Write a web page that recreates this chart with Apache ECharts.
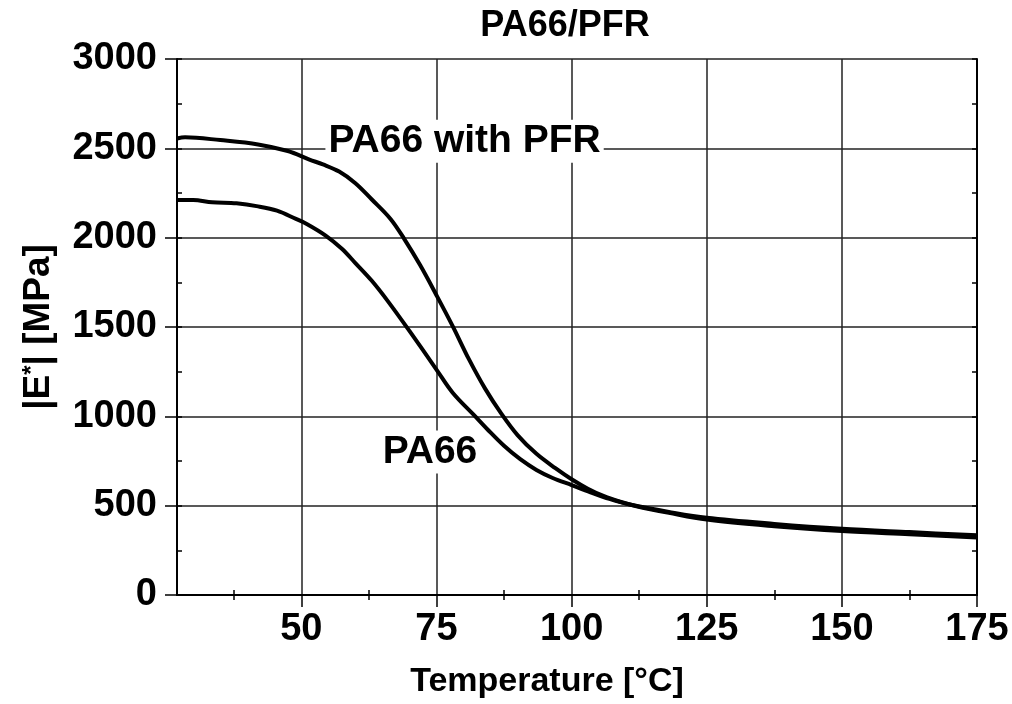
<!DOCTYPE html>
<html>
<head>
<meta charset="utf-8">
<title>PA66/PFR</title>
<script src="https://cdn.jsdelivr.net/npm/echarts@6/dist/echarts.min.js"></script>
<style>
  html, body { margin: 0; padding: 0; background: #fff; }
  #chart { width: 1012px; height: 704px; }
</style>
</head>
<body>
<div id="chart"></div>
<script>
// values
const tempPfr = [27, 28.5, 35, 42, 47.5, 51.5, 54, 57, 60, 63, 66.5, 69, 72, 75, 78, 81, 84, 87, 90, 93.5, 97, 100, 103, 106, 109, 112, 118, 125, 137.5, 150, 162.5, 175]
const modPfr = [2555, 2562, 2546, 2522, 2485, 2437, 2410, 2370, 2305, 2215, 2105, 1995, 1845, 1678, 1505, 1320, 1155, 1015, 895, 790, 710, 648, 595, 553, 522, 497, 460, 422, 385, 358, 340, 322]
const tempPa = [27, 30, 33.5, 38, 42, 45.5, 49, 51, 54.5, 57.5, 60, 63, 66, 70, 75, 78, 82, 84.5, 87.5, 90.5, 93.5, 96.5, 100, 103.5, 107, 111, 118, 125, 137.5, 150, 162.5, 175]
const modPa = [2211, 2211, 2198, 2192, 2175, 2151, 2105, 2077, 2012, 1938, 1858, 1760, 1645, 1478, 1262, 1132, 1005, 925, 835, 760, 700, 655, 615, 575, 538, 505, 465, 432, 398, 371, 352, 334]
const xTicks = [50, 75, 100, 125, 150, 175]
const xMinor = [37.5, 62.5, 87.5, 112.5, 137.5, 162.5]
const xAll = [37.5, 50, 62.5, 75, 87.5, 100, 112.5, 125, 137.5, 150, 162.5, 175]

const font = 'Liberation Sans, Arial, sans-serif'
const zip = (a, b) => a.map((v, i) => [v, b[i]])

const chart = echarts.init(document.getElementById('chart'))

const base = {
  type: 'value',
  min: 27,
  max: 175,
  axisLabel: { show: false },
  splitLine: { show: false },
  axisLine: { show: false },
}

chart.setOption({
  animation: false,
  title: {
    text: 'PA66/PFR',
    left: 560,
    top: 3,
    textAlign: 'center',
    textStyle: { fontFamily: font, fontSize: 36, fontWeight: 'bold', color: '#000' },
  },
  grid: { left: 177, right: 35, top: 59, bottom: 106 },
  xAxis: [
    {
      type: 'value',
      position: 'bottom',
      min: 27,
      max: 175,
      name: 'Temperature [°C]',
      nameLocation: 'middle',
      nameGap: 70,
      nameTextStyle: { fontFamily: font, fontSize: 34, fontWeight: 'bold', color: '#000', padding: [0, 60, 0, 0] },
      axisLine: { show: true, lineStyle: { color: '#000', width: 2 } },
      axisTick: { show: true, customValues: xTicks, length: 12, lineStyle: { color: '#000', width: 1.5 } },
      axisLabel: { customValues: xTicks, margin: 16, fontFamily: font, fontSize: 38, fontWeight: 'bold', color: '#000' },
      splitLine: { show: true, lineStyle: { color: '#222', width: 1.5 } },
    },
    Object.assign({}, base, {
      position: 'top',
      axisLine: { show: true, lineStyle: { color: '#000', width: 2 } },
      axisTick: { show: true, inside: true, customValues: xAll, length: 5, lineStyle: { color: '#000', width: 1.5 } },
    }),
    Object.assign({}, base, {
      position: 'bottom',
      axisTick: { show: true, inside: true, customValues: xMinor, length: 5, lineStyle: { color: '#000', width: 1.5 } },
    }),
  ],
  yAxis: [
    {
      type: 'value',
      position: 'left',
      min: 0,
      max: 3000,
      interval: 500,
      name: '{a||E}{s|*}{a|| [MPa]}',
      nameLocation: 'middle',
      nameGap: 119,
      nameTextStyle: {
        rich: {
          a: { fontFamily: font, fontSize: 37, fontWeight: 'bold', color: '#000' },
          s: { fontFamily: font, fontSize: 24, fontWeight: 'bold', color: '#000', verticalAlign: 'top', padding: [0, 0, 14, 0] },
        },
      },
      axisLine: { show: true, lineStyle: { color: '#000', width: 2 } },
      axisTick: { show: true, length: 12, lineStyle: { color: '#000', width: 1.5 } },
      axisLabel: { margin: 20, formatter: v => String(v), fontFamily: font, fontSize: 38, fontWeight: 'bold', color: '#000' },
      splitLine: { show: true, lineStyle: { color: '#222', width: 1.5 } },
    },
    {
      type: 'value',
      position: 'left',
      min: 0,
      max: 3000,
      interval: 250,
      axisLine: { show: false },
      axisLabel: { show: false },
      splitLine: { show: false },
      axisTick: { show: true, inside: true, length: 5, lineStyle: { color: '#000', width: 1.5 } },
    },
    {
      type: 'value',
      position: 'right',
      min: 0,
      max: 3000,
      interval: 250,
      axisLine: { show: true, lineStyle: { color: '#000', width: 2 } },
      axisLabel: { show: false },
      splitLine: { show: false },
      axisTick: { show: true, inside: true, length: 5, lineStyle: { color: '#000', width: 1.5 } },
    },
  ],
  series: [
    {
      name: 'PA66 with PFR',
      type: 'line',
      data: zip(tempPfr, modPfr),
      showSymbol: false,
      smooth: 0.35,
      lineStyle: { color: '#000', width: 4 },
      markPoint: {
        symbol: 'rect',
        symbolSize: 1,
        itemStyle: { color: 'rgba(0,0,0,0)' },
        label: {
          show: true,
          position: 'inside',
          formatter: 'PA66 with PFR',
          fontFamily: font,
          fontSize: 39,
          fontWeight: 'bold',
          color: '#000',
          backgroundColor: '#fff',
          padding: [2, 3],
        },
        data: [{ coord: [80.2, 2540] }],
      },
    },
    {
      name: 'PA66',
      type: 'line',
      data: zip(tempPa, modPa),
      showSymbol: false,
      smooth: 0.35,
      lineStyle: { color: '#000', width: 4 },
      markPoint: {
        symbol: 'rect',
        symbolSize: 1,
        itemStyle: { color: 'rgba(0,0,0,0)' },
        label: {
          show: true,
          position: 'inside',
          formatter: 'PA66',
          fontFamily: font,
          fontSize: 39,
          fontWeight: 'bold',
          color: '#000',
          backgroundColor: '#fff',
          padding: [2, 3],
        },
        data: [{ coord: [73.8, 800] }],
      },
    },
  ],
})
</script>
</body>
</html>
